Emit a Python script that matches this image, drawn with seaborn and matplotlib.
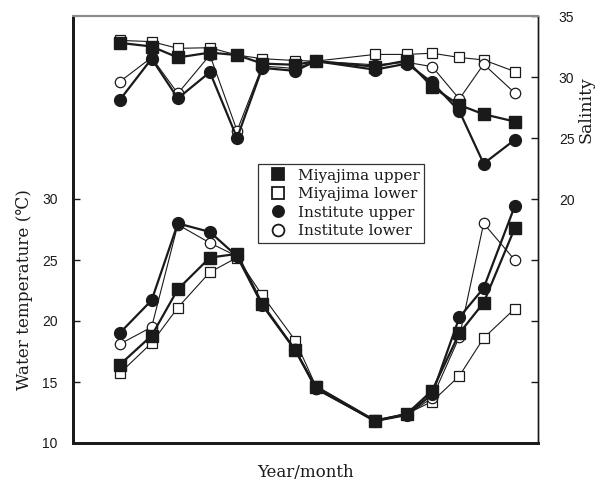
import matplotlib
matplotlib.use("Agg")
import matplotlib.pyplot as plt
from matplotlib.lines import Line2D
import seaborn as sns
import pandas as pd

# Sampling dates, as days after the first survey
days = [0, 33, 60, 93, 121, 147, 181, 202, 263, 296, 322, 350, 375, 407]

series = ["Miyajima upper", "Miyajima lower", "Institute upper", "Institute lower"]

# Water temperature (deg C)
temp_miyajima_upper = [16.4, 18.8, 22.6, 25.2, 25.5, 21.4, 17.6, 14.6, 11.8, 12.4, 14.3, 19.0, 21.5, 27.6]
temp_miyajima_lower = [15.7, 18.2, 21.1, 24.0, 25.2, 22.1, 18.4, 14.7, 11.9, 12.4, 13.4, 15.5, 18.6, 21.0]
temp_institute_upper = [19.0, 21.7, 28.0, 27.3, 25.3, 21.3, 17.6, 14.5, 11.8, 12.3, 14.0, 20.3, 22.7, 29.4]
temp_institute_lower = [18.1, 19.5, 27.9, 26.4, 25.3, 21.3, 17.7, 14.4, 11.8, 12.3, 13.7, 18.7, 28.0, 25.0]

# Salinity
sal_miyajima_upper = [32.8, 32.5, 31.6, 32.0, 31.8, 31.1, 31.0, 31.3, 30.85, 31.35, 29.2, 27.7, 26.95, 26.35]
sal_miyajima_lower = [33.0, 32.9, 32.35, 32.4, 31.8, 31.5, 31.35, 31.3, 31.85, 31.85, 31.95, 31.6, 31.4, 30.45]
sal_institute_upper = [28.1, 31.5, 28.25, 30.4, 25.0, 30.75, 30.5, 31.3, 30.6, 31.1, 29.55, 27.2, 22.9, 24.85]
sal_institute_lower = [29.6, 31.6, 28.65, 31.8, 25.6, 30.9, 30.7, 31.3, 31.0, 31.2, 30.85, 28.2, 31.05, 28.7]

temp = dict(zip(series, [temp_miyajima_upper, temp_miyajima_lower,
                         temp_institute_upper, temp_institute_lower]))
sal = dict(zip(series, [sal_miyajima_upper, sal_miyajima_lower,
                        sal_institute_upper, sal_institute_lower]))

ink = "#1a1a1a"
styles = {
    "Miyajima upper": dict(marker="s", ms=8.0, mfc=ink, lw=1.6, mew=1.0),
    "Miyajima lower": dict(marker="s", ms=7.5, mfc="white", lw=0.8, mew=0.9),
    "Institute upper": dict(marker="o", ms=8.5, mfc=ink, lw=1.6, mew=1.0),
    "Institute lower": dict(marker="o", ms=7.5, mfc="white", lw=0.8, mew=0.9),
}
draw_order = ["Miyajima lower", "Institute lower", "Miyajima upper", "Institute upper"]

sns.set_style("ticks")
serif = ["DejaVu Serif"]
sans = ["Liberation Sans", "DejaVu Sans"]
plt.rcParams["font.family"] = sans

fig = plt.figure(figsize=(5.98, 4.91), dpi=100)
ax = fig.add_axes([73 / 598, 1 - 443 / 491, (538 - 73) / 598, (443 - 16) / 491])
ax2 = ax.twinx()

rows = []
for name in series:
    for d, t, s in zip(days, temp[name], sal[name]):
        rows.append({"day": d, "series": name, "temperature": t, "salinity": s})
df = pd.DataFrame(rows)

for name in draw_order:
    sub = df[df["series"] == name]
    st = styles[name]
    kw = dict(marker=st["marker"], markersize=st["ms"], markerfacecolor=st["mfc"],
              markeredgecolor=ink, markeredgewidth=st["mew"],
              linewidth=st["lw"], color=ink)
    sns.lineplot(data=sub, x="day", y="temperature", ax=ax, legend=False, **kw)
    sns.lineplot(data=sub, x="day", y="salinity", ax=ax2, legend=False, **kw)

ax.set_xlim(-48, 431)
ax.set_ylim(10, 45)
ax2.set_ylim(0, 35)
ax.set_xticks([])
ax.set_yticks([10, 15, 20, 25, 30])
ax2.set_yticks([5, 10, 15, 20, 25, 30, 35])
ax2.set_yticklabels(["", "", "", "20", "25", "30", "35"])
ax.tick_params(axis="y", direction="in", labelsize=10, length=5, width=1.0,
               color=ink, labelcolor=ink, pad=11)
ax2.tick_params(axis="y", direction="in", labelsize=10, length=5, width=1.0,
                color=ink, labelcolor=ink, pad=15)

ax.set_xlabel("Year/month", family=serif, fontsize=12, color=ink, labelpad=15)
ax.set_ylabel("Water temperature (\u2103)", family=serif, fontsize=12.2, color=ink)
ax.yaxis.set_label_coords(-0.086, 0.36)
ax2.set_ylabel("Salinity", family=serif, fontsize=12.5, color=ink)
ax2.yaxis.set_label_coords(1.084, 0.78)

for a in (ax, ax2):
    a.spines["left"].set_linewidth(2.0)
    a.spines["left"].set_color(ink)
    a.spines["bottom"].set_linewidth(2.0)
    a.spines["bottom"].set_color(ink)
    a.spines["right"].set_linewidth(1.0)
    a.spines["right"].set_color(ink)
    a.spines["top"].set_linewidth(1.5)
    a.spines["top"].set_color("#8c8c8c")
    a.spines["top"].set_visible(True)
    a.spines["right"].set_visible(True)

handles = []
for name in series:
    st = styles[name]
    handles.append(Line2D([], [], linestyle="none", marker=st["marker"],
                          markersize=8 if st["mfc"] == ink else 8.5,
                          markerfacecolor=st["mfc"], markeredgecolor=ink,
                          markeredgewidth=1.3, label=name))
leg = ax2.legend(handles=handles, loc="upper left",
                 bbox_to_anchor=((258 - 73) / 465, 1 - (164 - 16) / 427),
                 frameon=True, fancybox=False, framealpha=1, edgecolor="#333333",
                 prop={"family": serif, "size": 11}, handletextpad=0.3,
                 handlelength=2.0, labelspacing=0.3, borderpad=0.3,
                 borderaxespad=0)
leg.get_frame().set_linewidth(0.9)
for t in leg.get_texts():
    t.set_color(ink)

fig.savefig("out.png", dpi=100)
